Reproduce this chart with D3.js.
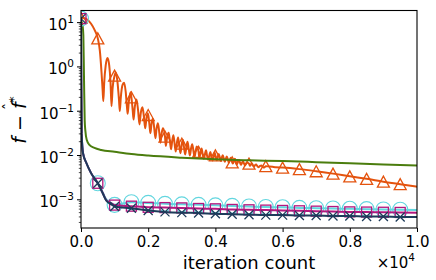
<!DOCTYPE html>
<html>
<head>
<meta charset="utf-8">
<script src="https://d3js.org/d3.v7.min.js"></script>
<style>
  body { margin: 0; background: #fff; }
  text { font-family: "DejaVu Sans", sans-serif; fill: #000; }
</style>
</head>
<body>
<svg width="436" height="280"></svg>
<script>
// gap f - f* per iteration
// orange (triangles): oscillating run, peaks and troughs as read
const orangePts = [
  [0,12.5],[100,12.2],[200,11.2],[300,9.2],[400,6.8],[500,4.3],[560,2.3],[610,0.75],[645,0.28],[664,0.165],
  [690,0.42],[735,1.05],[789,1.55],[840,1.05],[880,0.42],[908,0.126],[940,0.32],[1000,0.62],[1033,0.74],
  [1085,0.45],[1130,0.18],[1155,0.098],[1185,0.2],[1235,0.38],[1280,0.43],[1330,0.27],[1368,0.12],[1390,0.085],
  [1420,0.15],[1473,0.26],[1500,0.2],[1540,0.1],[1565,0.063],[1600,0.12],[1652,0.18],[1700,0.1],[1740,0.049],
  [1780,0.09],[1830,0.12],[1875,0.07],[1910,0.04],[1950,0.07],[1985,0.088],[2000,0.08],[2035,0.05],[2065,0.031],
  [2100,0.052],[2140,0.066],[2180,0.04],[2215,0.024],[2250,0.04],[2290,0.052],[2330,0.032],[2365,0.019],
  [2400,0.031],[2440,0.04],[2500,0.026],[2525,0.016],[2565,0.026],[2610,0.032],[2645,0.021],[2680,0.0135],
  [2715,0.021],[2750,0.028],[2785,0.018],[2820,0.012],[2855,0.019],[2890,0.025],[2925,0.016],[2960,0.011],
  [3000,0.018],[3030,0.022],[3065,0.015],[3100,0.0103],[3135,0.015],[3170,0.020],[3205,0.014],[3240,0.0097],
  [3275,0.014],[3310,0.0175],[3345,0.0126],[3380,0.0091],[3415,0.0126],[3445,0.0155],[3500,0.0118],[3520,0.0086],
  [3555,0.011],[3590,0.014],[3620,0.0105],[3655,0.0082],[3690,0.0105],[3720,0.0128],[3750,0.0098],[3785,0.0078],
  [3820,0.0098],[3850,0.0117],[3880,0.0093],[3915,0.0075],[3950,0.0093],[3980,0.0112],[4000,0.0098],[4040,0.0076],
  [4070,0.0092],[4100,0.0106],[4130,0.0088],[4160,0.0073],[4190,0.0087],[4220,0.0099],[4250,0.0083],[4280,0.0070],
  [4310,0.0082],[4340,0.0093],[4370,0.0079],[4400,0.0067],[4430,0.0078],[4460,0.0087],[4500,0.0068],[4520,0.0064],
  [4550,0.0074],[4580,0.0082],[4610,0.0071],[4640,0.0062],[4670,0.0070],[4700,0.0077],[4730,0.0068],[4760,0.0060],
  [4790,0.0066],[4820,0.0072],[4850,0.0065],[4880,0.0058],[4910,0.0063],[4940,0.0068],[5000,0.0064],[5030,0.0057],
  [5060,0.0062],[5090,0.0064],[5120,0.0058],[5150,0.0055],[5180,0.0059],[5210,0.0061],[5250,0.0056],[5290,0.0053],
  [5330,0.0057],[5370,0.0058],[5410,0.0054],[5450,0.0052],[5500,0.0056],[5600,0.0055],[5700,0.0054],[5800,0.0053],
  [6000,0.0052],[6500,0.0048],[7000,0.0043],[7500,0.0038],[8000,0.0033],[8500,0.0029],[9000,0.0025],[9500,0.0022],
  [10000,0.00193]
];

// green: no markers
const greenIt  = [0, 50, 70, 90, 110, 130, 170, 250, 400, 600, 1000, 1500, 2000, 3000, 4000, 5000, 6000, 7000, 8000, 9000, 10000];
const greenVal = [11, 8, 5, 0.5, 0.06, 0.035, 0.022, 0.017, 0.0145, 0.013, 0.0118, 0.0105, 0.0097, 0.0087, 0.0080, 0.0076, 0.0073, 0.0069, 0.0065, 0.0061, 0.0058];

// the three lower runs share one iteration grid
const lowIt = [0, 8, 20, 60, 160, 300, 500, 650, 750, 900, 1000, 1500, 2000, 2500, 3000, 3500, 4000, 4500,
               5000, 5500, 6000, 6500, 7000, 7500, 8000, 8500, 9000, 9500, 10000];
const cyanVal = [12, 0.5, 0.03, 0.011, 0.0066, 0.0039, 0.0023, 0.0014, 0.001, 0.00082, 0.00075, 0.00086, 0.00083,
                 0.00079, 0.00077, 0.00075, 0.00073, 0.00071, 0.00069, 0.00067, 0.00066, 0.00064, 0.00063, 0.00062,
                 0.00061, 0.0006, 0.00059, 0.00058, 0.00057];
const magentaVal = [12, 0.5, 0.03, 0.011, 0.0066, 0.0039, 0.0023, 0.00137, 0.00096, 0.00081, 0.00074, 0.00070, 0.00066,
                    0.00065, 0.00064, 0.00062, 0.00061, 0.00059, 0.00058, 0.00057, 0.00056, 0.00055, 0.00054, 0.00053,
                    0.00052, 0.000515, 0.00051, 0.000505, 0.0005];
const navyVal = [12, 0.5, 0.03, 0.011, 0.0066, 0.0039, 0.0023, 0.00135, 0.00094, 0.00077, 0.00069, 0.00063, 0.00056,
                 0.00052, 0.0005, 0.00049, 0.00047, 0.00046, 0.00045, 0.00044, 0.00044, 0.00043, 0.00043, 0.00042,
                 0.00042, 0.00041, 0.00041, 0.0004, 0.0004];

const xTicks = [0, 2000, 4000, 6000, 8000, 10000];
const xTickLabels = ["0.0", "0.2", "0.4", "0.6", "0.8", "1.0"];
const yTicks = [1e-3, 1e-2, 1e-1, 1, 10];
const yTickExp = ["\u22123", "\u22122", "\u22121", "0", "1"];

const svg = d3.select("svg");
const pL = 81, pR = 417, pT = 10.5, pB = 228;

const x = d3.scaleLinear().domain([0, 10000]).range([pL, pR]);
const y = d3.scaleLog().domain([2.25e-4, 18.3]).range([pB, pT]);

svg.append("clipPath").attr("id", "clip")
  .append("rect").attr("x", pL).attr("y", pT).attr("width", pR - pL).attr("height", pB - pT);

const plot = svg.append("g").attr("clip-path", "url(#clip)");

const line = d3.line().x(d => x(d[0])).y(d => y(d[1])).curve(d3.curveMonotoneX);
const zip = (its, vals) => its.map((t, i) => [t, vals[i]]);
const marked = pts => pts.filter(d => d[0] % 500 === 0 && d[0] < 10000);

const cols = {
  orange: "#e4530e", green: "#4b7d0e", cyan: "#63d6df", magenta: "#b3177e", navy: "#1d3b5a"
};

// orange + triangles
plot.append("path").datum(orangePts).attr("d", line)
  .attr("fill", "none").attr("stroke", cols.orange).attr("stroke-width", 2);
plot.selectAll(".tri").data(marked(orangePts)).enter().append("path")
  .attr("transform", d => `translate(${x(d[0])},${y(d[1])})`)
  .attr("d", "M0,-5.5L-6,5.5L6,5.5Z")
  .attr("fill", "none").attr("stroke", cols.orange).attr("stroke-width", 1.3);

// green
plot.append("path").datum(zip(greenIt, greenVal)).attr("d", line)
  .attr("fill", "none").attr("stroke", cols.green).attr("stroke-width", 2);

// cyan + circles
const cyanPts = zip(lowIt, cyanVal);
plot.append("path").datum(cyanPts).attr("d", line)
  .attr("fill", "none").attr("stroke", cols.cyan).attr("stroke-width", 2);
plot.selectAll(".circ").data(marked(cyanPts)).enter().append("circle")
  .attr("cx", d => x(d[0])).attr("cy", d => y(d[1])).attr("r", 7.5)
  .attr("fill", "none").attr("stroke", cols.cyan).attr("stroke-width", 1.1);

// magenta + squares
const magPts = zip(lowIt, magentaVal);
plot.append("path").datum(magPts).attr("d", line)
  .attr("fill", "none").attr("stroke", cols.magenta).attr("stroke-width", 2);
plot.selectAll(".sq").data(marked(magPts)).enter().append("rect")
  .attr("x", d => x(d[0]) - 5).attr("y", d => y(d[1]) - 5).attr("width", 10).attr("height", 10)
  .attr("fill", "none").attr("stroke", cols.magenta).attr("stroke-width", 1.3);

// navy + crosses
const navyPts = zip(lowIt, navyVal);
plot.append("path").datum(navyPts).attr("d", line)
  .attr("fill", "none").attr("stroke", cols.navy).attr("stroke-width", 2);
plot.selectAll(".xm").data(marked(navyPts)).enter().append("path")
  .attr("transform", d => `translate(${x(d[0])},${y(d[1])})`)
  .attr("d", "M-4.5,-4.5L4.5,4.5M-4.5,4.5L4.5,-4.5")
  .attr("fill", "none").attr("stroke", cols.navy).attr("stroke-width", 1.3);

// frame
svg.append("rect").attr("x", pL).attr("y", pT).attr("width", pR - pL).attr("height", pB - pT)
  .attr("fill", "none").attr("stroke", "#000").attr("stroke-width", 1.1);

// x axis
const xAxis = d3.axisBottom(x).tickValues(xTicks).tickSize(4).tickFormat((d, i) => xTickLabels[i]);
const gx = svg.append("g").attr("transform", `translate(0,${pB})`).call(xAxis);
gx.select(".domain").remove();
gx.selectAll("text").attr("font-size", 15).attr("font-family", "DejaVu Sans").attr("fill", "#000").attr("dy", "0.8em");

// y axis, minor ticks first
const minors = [];
for (let e = -4; e <= 1; e++) for (let m = 2; m <= 9; m++) {
  const v = m * Math.pow(10, e);
  if (v > y.domain()[0] && v < y.domain()[1]) minors.push(v);
}
svg.append("g").selectAll("line").data(minors).enter().append("line")
  .attr("x1", pL).attr("x2", pL - 2.2).attr("y1", d => y(d)).attr("y2", d => y(d))
  .attr("stroke", "#000").attr("stroke-width", 0.7);

const yAxis = d3.axisLeft(y).tickValues(yTicks).tickSize(4).tickFormat("");
const gy = svg.append("g").attr("transform", `translate(${pL},0)`).call(yAxis);
gy.select(".domain").remove();
gy.selectAll(".tick").each(function(d, i) {
  const t = d3.select(this).append("text").attr("x", -7).attr("y", 7.5)
    .attr("text-anchor", "end").attr("font-size", 15).attr("fill", "#000");
  t.append("tspan").text("10");
  t.append("tspan").attr("dy", -7).attr("font-size", 10.5).text(yTickExp[i]);
});

// labels
svg.append("text").attr("x", (pL + pR) / 2).attr("y", 269).attr("text-anchor", "middle")
  .attr("font-size", 18).text("iteration count");

const off = svg.append("text").attr("x", 415).attr("y", 268).attr("text-anchor", "end").attr("font-size", 15);
off.append("tspan").text("\u00d710");
off.append("tspan").attr("dy", -7).attr("font-size", 10.5).text("4");

// y label  f - f-hat^*
const yl = svg.append("text").attr("transform", "translate(26,120) rotate(-90)")
  .attr("text-anchor", "middle").attr("font-size", 19);
yl.append("tspan").attr("font-style", "italic").text("f");
yl.append("tspan").text(" \u2212 ");
yl.append("tspan").attr("font-style", "italic").text("f");
yl.append("tspan").attr("dx", -8).attr("dy", -11).attr("font-size", 15).text("\u02c6");
yl.append("tspan").attr("dx", 0).attr("dy", 3).attr("font-size", 13).text("*");
</script>
</body>
</html>
